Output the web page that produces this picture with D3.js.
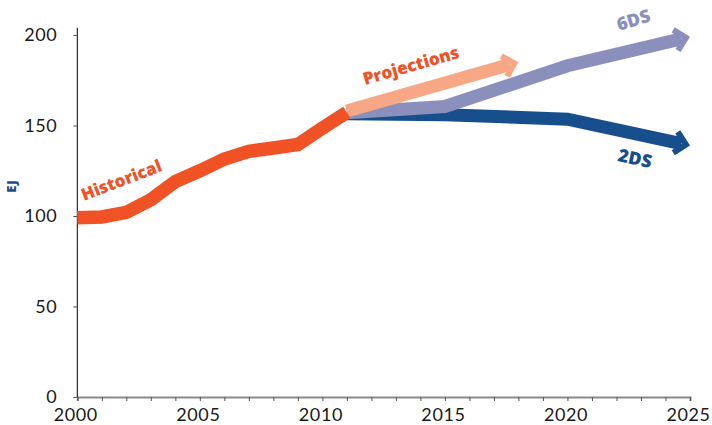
<!DOCTYPE html>
<html lang="en">
<head>
    <meta charset="UTF-8">
    <title>Energy Demand EJ</title>
    <script src="https://d3js.org/d3.v7.min.js"></script>
    <style>
        body { margin: 0; background: #fff; }
        svg { display: block; }
        .tick text { font-family: Lato, sans-serif; font-size: 18px; fill: #1a1a1a; letter-spacing: 0.6px; }
        .lbl { font-family: "Open Sans", sans-serif; font-weight: 800; font-size: 17px; }
    </style>
</head>
<body>
<div id="chart"></div>
<script>
    // Data
    const histYears = [2000, 2001, 2002, 2003, 2004, 2005, 2006, 2007, 2008, 2009, 2010, 2011];
    const histValues = [99, 99.5, 102, 109, 119, 125, 131.5, 135.7, 137.6, 139.5, 148.5, 157.3];

    const scenYears = [2011, 2015, 2020, 2025];
    const sixDS = [157, 160.5, 183, 199];
    const twoDS = [156.5, 156, 153.5, 139];

    const projYears = [2011, 2018];
    const projValues = [158, 185];

    const xTicks = [2000, 2005, 2010, 2015, 2020, 2025];
    const yTicks = [0, 50, 100, 150, 200];

    const W = 712, H = 425;
    const svg = d3.select("#chart").append("svg")
        .attr("width", W).attr("height", H);

    const x = d3.scaleLinear().domain([2000, 2025]).range([77.3, 690]);
    const y = d3.scaleLinear().domain([0, 200]).range([397, 35]);

    // axes
    const xAxis = svg.append("g")
        .attr("transform", `translate(0,${y(0)})`)
        .call(d3.axisBottom(x).tickValues(d3.range(2000, 2026)).tickSize(4)
            .tickFormat(d => xTicks.includes(d) ? d : ""));
    xAxis.select(".domain").attr("stroke", "#8a8a8a").attr("stroke-width", 2);
    xAxis.selectAll(".tick line").attr("stroke", "#555");
    xAxis.selectAll(".tick text").attr("dy", "0.95em").attr("dx", "-2");

    const yAxis = svg.append("g")
        .attr("transform", `translate(${x(2000)},0)`)
        .call(d3.axisLeft(y).tickValues(yTicks).tickSize(4).tickPadding(16));
    yAxis.select(".domain").attr("stroke", "#000").attr("d", `M0,${y(0)}V${y(204)}`);
    yAxis.selectAll(".tick line").attr("stroke", "#555");

    svg.append("text")
        .attr("class", "lbl")
        .attr("transform", "translate(15.5,186) rotate(-90)")
        .attr("text-anchor", "middle")
        .attr("fill", "#1b4d8a")
        .style("font-size", "13px")
        .style("letter-spacing", "0.8px")
        .text("EJ");

    const line = d3.line().x(d => x(d[0])).y(d => y(d[1]));
    const SW = 13;

    function arrowSeries(years, values, color) {
        const pts = years.map((yr, i) => [yr, values[i]]);
        const p1 = [x(pts[pts.length - 2][0]), y(pts[pts.length - 2][1])];
        const p2 = [x(pts[pts.length - 1][0]), y(pts[pts.length - 1][1])];
        const len = Math.hypot(p2[0] - p1[0], p2[1] - p1[1]);
        const d = [(p2[0] - p1[0]) / len, (p2[1] - p1[1]) / len];
        const n = [-d[1], d[0]];
        const s = 6, L = 15;
        const vtx = [p2[0] - d[0] * 4.2, p2[1] - d[1] * 4.2];
        const shaftEnd = [p2[0] - d[0] * 9, p2[1] - d[1] * 9];
        const pix = pts.slice(0, -1).map(p => [x(p[0]), y(p[1])]);
        pix.push(shaftEnd);
        svg.append("path")
            .attr("d", d3.line()(pix))
            .attr("fill", "none").attr("stroke", color)
            .attr("stroke-width", SW).attr("stroke-linejoin", "miter");
        const c = Math.SQRT1_2;
        const a = [vtx[0] + L * (-d[0] * c + n[0] * c), vtx[1] + L * (-d[1] * c + n[1] * c)];
        const b = [vtx[0] + L * (-d[0] * c - n[0] * c), vtx[1] + L * (-d[1] * c - n[1] * c)];
        svg.append("path")
            .attr("d", d3.line()([a, vtx, b]))
            .attr("fill", "none").attr("stroke", color)
            .attr("stroke-width", s).attr("stroke-linejoin", "miter")
            .attr("stroke-miterlimit", 10);
    }

    arrowSeries(scenYears, twoDS, "#174e8c");
    arrowSeries(scenYears, sixDS, "#8a90bb");
    arrowSeries(projYears, projValues, "#f8a784");

    svg.append("path")
        .datum(histYears.map((yr, i) => [yr, histValues[i]]))
        .attr("d", line)
        .attr("fill", "none").attr("stroke", "#f05125")
        .attr("stroke-width", 13.5).attr("stroke-linejoin", "miter");

    // labels
    const labels = [
        {t: "Historical", x: 84, y: 201, r: -21, c: "#f05125", s: 17},
        {t: "Projections", x: 365, y: 85, r: -16, c: "#f05125", s: 17},
        {t: "6DS", x: 619, y: 31, r: -17, c: "#8a90bb", s: 18},
        {t: "2DS", x: 617, y: 161, r: 12, c: "#174e8c", s: 18}
    ];
    labels.forEach(l => {
        svg.append("text")
            .attr("class", "lbl")
            .attr("transform", `translate(${l.x},${l.y}) rotate(${l.r})`)
            .attr("fill", l.c)
            .style("font-size", l.s + "px")
            .text(l.t);
    });
</script>
</body>
</html>
